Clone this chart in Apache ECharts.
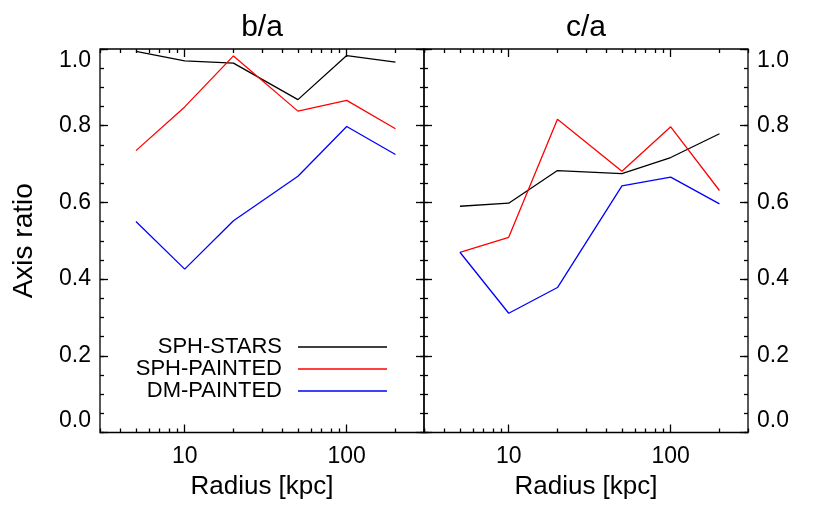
<!DOCTYPE html>
<html>
<head>
<meta charset="utf-8">
<script src="https://cdn.jsdelivr.net/npm/echarts@6/dist/echarts.min.js"></script>
<style>html,body{margin:0;padding:0;background:#fff}#c{width:830px;height:509px}</style>
</head>
<body>
<div id="c"></div>
<script>
// ---- data ----
const radii = [5, 10, 20, 50, 100, 200];
const panelTitles = ['b/a', 'c/a'];
const seriesNames = ['SPH-STARS', 'SPH-PAINTED', 'DM-PAINTED'];
const seriesColors = ['#000000', '#ff0000', '#0000ff'];
// b/a panel
const baStars   = [0.994, 0.969, 0.963, 0.868, 0.983, 0.966];
const baSph     = [0.735, 0.849, 0.982, 0.838, 0.866, 0.792];
const baDm      = [0.550, 0.426, 0.552, 0.668, 0.798, 0.725];
// c/a panel
const caStars   = [0.590, 0.598, 0.683, 0.675, 0.717, 0.779];
const caSph     = [0.470, 0.509, 0.817, 0.681, 0.797, 0.631];
const caDm      = [0.470, 0.311, 0.378, 0.643, 0.666, 0.596];
const xMajorTicks = [10, 100];
const xMinorTicks = [3, 4, 5, 6, 7, 8, 9, 20, 30, 40, 50, 60, 70, 80, 90, 200, 300];
const xName = 'Radius [kpc]';
const yName = 'Axis ratio';

// ---- chart ----
const FONT = 'Liberation Sans';
const chart = echarts.init(document.getElementById('c'), null, {renderer: 'canvas'});
const lineW = 1.3;
const grids = [
  {left: 100, top: 49, width: 324, height: 383.5, show: true, borderColor: '#000', borderWidth: lineW, backgroundColor: 'transparent'},
  {left: 424, top: 49, width: 324, height: 383.5, show: true, borderColor: '#000', borderWidth: lineW, backgroundColor: 'transparent'}
];
const MAJ = 8, MIN = 4;
const xAxes = [], yAxes = [];
const tickStyle = {color: '#000', width: lineW};
grids.forEach((g, gi) => {
  xAxes.push({
    type: 'log', gridIndex: gi, position: 'bottom', min: 3, max: 300, logBase: 10,
    axisLine: {show: false, onZero: false}, axisTick: {show: false},
    axisLabel: {show: true, customValues: xMajorTicks, margin: 13, color: '#000', fontFamily: FONT, fontSize: 23},
    splitLine: {show: false},
    name: xName, nameLocation: 'middle', nameGap: 41,
    nameTextStyle: {color: '#000', fontFamily: FONT, fontSize: 26}
  });
  ['bottom', 'top'].forEach(pos => {
    [[xMajorTicks, MAJ], [xMinorTicks, MIN]].forEach(([vals, len]) => {
      xAxes.push({
        type: 'log', gridIndex: gi, position: pos, min: 3, max: 300, logBase: 10,
        axisLine: {show: false, onZero: false},
        axisTick: {show: true, inside: true, length: len, customValues: vals, lineStyle: tickStyle},
        axisLabel: {show: false}, splitLine: {show: false}
      });
    });
  });
  const labPos = gi === 0 ? 'left' : 'right';
  yAxes.push({
    type: 'value', gridIndex: gi, position: labPos, min: 0, max: 1, interval: 0.2,
    axisLine: {show: false, onZero: false}, axisTick: {show: false},
    axisLabel: {show: true, margin: 9, color: '#000', fontFamily: FONT, fontSize: 23,
      formatter: v => v.toFixed(1), verticalAlignMinLabel: 'bottom', verticalAlignMaxLabel: 'top'},
    splitLine: {show: false},
    name: gi === 0 ? yName : '', nameLocation: 'middle', nameGap: 62,
    nameTextStyle: {color: '#000', fontFamily: FONT, fontSize: 28}
  });
  ['left', 'right'].forEach(pos => {
    [[0.2, MAJ], [0.05, MIN]].forEach(([iv, len]) => {
      yAxes.push({
        type: 'value', gridIndex: gi, position: pos, min: 0, max: 1, interval: iv,
        axisLine: {show: false, onZero: false},
        axisTick: {show: true, inside: true, length: len, lineStyle: tickStyle},
        axisLabel: {show: false}, splitLine: {show: false}
      });
    });
  });
});

const panelData = [[baStars, baSph, baDm], [caStars, caSph, caDm]];
const series = [];
panelData.forEach((arrs, gi) => {
  arrs.forEach((vals, si) => {
    series.push({
      type: 'line', name: seriesNames[si], xAxisIndex: gi * 5, yAxisIndex: gi * 5,
      data: radii.map((r, i) => [r, vals[i]]),
      color: seriesColors[si], symbol: 'none', showSymbol: false,
      lineStyle: {width: 1.3, color: seriesColors[si]}, silent: true
    });
  });
});

chart.setOption({
  animation: false,
  backgroundColor: '#fff',
  title: panelTitles.map((t, i) => ({
    text: t, left: grids[i].left + grids[i].width / 2, top: 13, textAlign: 'center', padding: 0,
    textStyle: {color: '#000', fontFamily: FONT, fontSize: 30, fontWeight: 'normal'}
  })),
  legend: {
    data: seriesNames, orient: 'vertical', align: 'right', right: 438, top: 331,
    icon: 'rect', itemWidth: 89, itemHeight: 1.4, itemGap: 0,
    textStyle: {color: '#000', fontFamily: FONT, fontSize: 22, padding: [0, 11, 0, 0]},
    selectedMode: false
  },
  grid: grids,
  xAxis: xAxes,
  yAxis: yAxes,
  series: series
});
</script>
</body>
</html>
